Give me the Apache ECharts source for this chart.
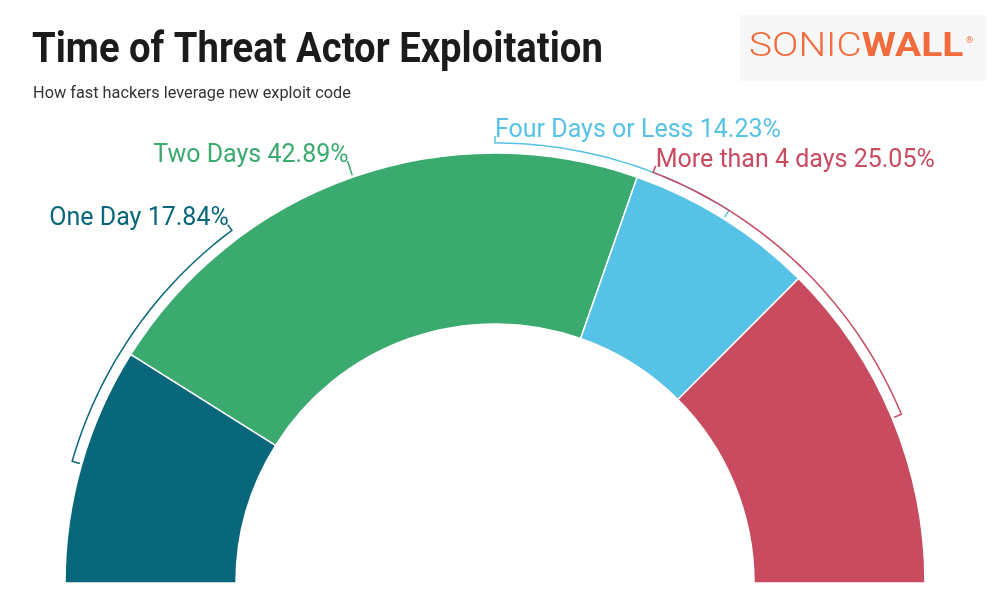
<!DOCTYPE html>
<html>
<head>
<meta charset="utf-8">
<title>Time of Threat Actor Exploitation</title>
<script src="https://cdn.jsdelivr.net/npm/echarts@6/dist/echarts.min.js"></script>
<style>
  html, body { margin: 0; padding: 0; background: #fff; }
  #chart { width: 1000px; height: 603px; }
</style>
</head>
<body>
<div id="chart"></div>
<script>
// values
var categories = ['One Day', 'Two Days', 'Four Days or Less', 'More than 4 days'];
var shares = [17.84, 42.89, 14.23, 25.05];
var colors = ['#08677a', '#3aaa6f', '#56c2e6', '#c84b60'];

// where each label sits along the half ring (percent, left to right)
var labelAt = [29.6, 39.3, 50, 61.7];

var total = shares.reduce(function (a, b) { return a + b; }, 0);
var cx = 495, cy = 583;
var rInner = 259, rOuter = 430;
var rArc = 440, rTickIn = 432, rTickOut = 447;

// percent along the half circle -> pixel point
function polar(r, pct) {
  var a = Math.PI - Math.PI * pct / 100;
  return [cx + r * Math.cos(a), cy - r * Math.sin(a)];
}

// leader line that runs along the ring from the slice middle to its label
function renderBracket(params, api) {
  var i = params.dataIndex;
  var before = 0;
  for (var k = 0; k < i; k++) before += shares[k];
  var mid = (before + shares[i] / 2) / total * 100;
  var at = labelAt[i];
  var pts = [polar(rTickIn, mid)];
  var steps = Math.max(1, Math.ceil(Math.abs(at - mid) * 2));
  for (var s = 0; s <= steps; s++) {
    pts.push(polar(rArc, mid + (at - mid) * s / steps));
  }
  var end = polar(rTickOut, at);
  pts.push(end);
  var leftSide = at < 50;
  return {
    type: 'group',
    children: [
      {
        type: 'polyline',
        shape: { points: pts },
        style: { stroke: colors[i], lineWidth: 1.5, fill: null }
      },
      {
        type: 'text',
        x: end[0] + (leftSide ? 1 : 0),
        y: end[1] + 7,
        style: {
          text: categories[i] + ' ' + shares[i].toFixed(2) + '%',
          fill: colors[i],
          font: 'normal 25px Roboto',
          textAlign: leftSide ? 'right' : 'left',
          textVerticalAlign: 'bottom'
        }
      }
    ]
  };
}

var chart = echarts.init(document.getElementById('chart'));

var option = {
  backgroundColor: '#fff',
  animation: false,
  graphic: [
    {
      type: 'text',
      x: 32, y: 30,
      scaleX: 0.91,
      style: {
        text: 'Time of Threat Actor Exploitation',
        font: 'bold 42px Roboto',
        fill: '#1b1b1b',
        textAlign: 'left',
        textVerticalAlign: 'top'
      }
    },
    {
      type: 'text',
      x: 33, y: 85,
      scaleX: 0.96,
      style: {
        text: 'How fast hackers leverage new exploit code',
        font: 'normal 17px Roboto',
        fill: '#333',
        textAlign: 'left',
        textVerticalAlign: 'top'
      }
    },
    {
      type: 'rect',
      shape: { x: 740, y: 15, width: 246, height: 66 },
      style: { fill: '#f7f7f7' }
    },
    {
      type: 'text',
      x: 749, y: 48,
      scaleX: 1.18,
      style: {
        text: '{a|SONIC}{b|WALL}',
        rich: {
          a: { fontFamily: 'Roboto', fontWeight: 300, fontSize: 33, fill: '#f26b3d' },
          b: { fontFamily: 'Roboto', fontWeight: 'bold', fontSize: 33, fill: '#f26b3d' }
        },
        textAlign: 'left',
        textVerticalAlign: 'middle'
      }
    },
    {
      type: 'text',
      x: 966, y: 41,
      style: {
        text: '®',
        font: 'normal 9px Roboto',
        fill: '#f26b3d',
        textAlign: 'left',
        textVerticalAlign: 'middle'
      }
    }
  ],
  series: [
    {
      type: 'pie',
      center: [cx, cy],
      radius: [rInner, rOuter],
      startAngle: 180,
      endAngle: 0,
      clockwise: true,
      silent: true,
      label: { show: false },
      labelLine: { show: false },
      itemStyle: { borderColor: '#fff', borderWidth: 1.5 },
      data: categories.map(function (c, i) {
        return { name: c, value: shares[i], itemStyle: { color: colors[i] } };
      })
    },
    {
      type: 'custom',
      coordinateSystem: 'none',
      silent: true,
      renderItem: renderBracket,
      data: shares
    }
  ]
};

chart.setOption(option);
</script>
</body>
</html>
